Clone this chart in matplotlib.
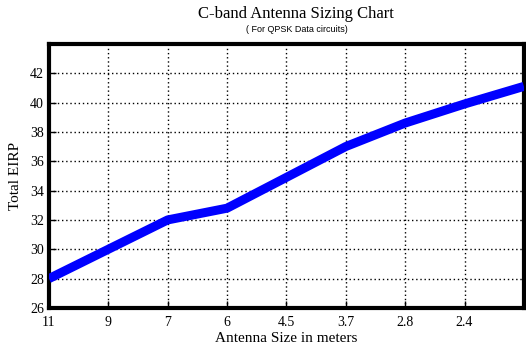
import matplotlib.pyplot as plt
import numpy as np

plt.rcParams.update({"font.family": "Liberation Serif"})

# антенны: размер в метрах (последняя точка без подписи)
sizes = ["11", "9", "7", "6", "4.5", "3.7", "2.8", "2.4", ""]
eirp = [28.0, 30.0, 32.0, 32.8, 34.9, 37.0, 38.6, 39.9, 41.1]
y_ticks = [26, 28, 30, 32, 34, 36, 38, 40, 42]

fig = plt.figure(figsize=(5.26, 3.49), dpi=100)
ax = fig.add_axes([0.093, 0.1175, 0.903, 0.757])

x = np.arange(len(sizes))
ax.plot(x, eirp, color="#0000ff", linewidth=6.5, solid_capstyle="butt", zorder=3)

ax.set_xlim(0, len(sizes) - 1)
ax.set_ylim(26, 44)
ax.set_xticks(x)
ax.set_xticklabels(sizes)
ax.set_yticks(y_ticks)
ax.tick_params(direction="in", length=5, width=1, labelsize=10)
ax.tick_params(axis="x", pad=6)
ax.grid(True, color="black", linestyle=(0, (1, 2)), linewidth=1)

for s in ax.spines.values():
    s.set_linewidth(3)

ax.set_xlabel("Antenna Size in meters", fontsize=11, labelpad=2)
ax.set_ylabel("Total EIRP", fontsize=11, labelpad=6)

fig.text(0.563, 0.96, "C-band Antenna Sizing Chart", ha="center", va="center", fontsize=12)
fig.text(0.565, 0.915, "( For QPSK Data circuits)", ha="center", va="center",
         fontsize=6.5, family="Liberation Sans")

fig.savefig("out.png", dpi=100)
